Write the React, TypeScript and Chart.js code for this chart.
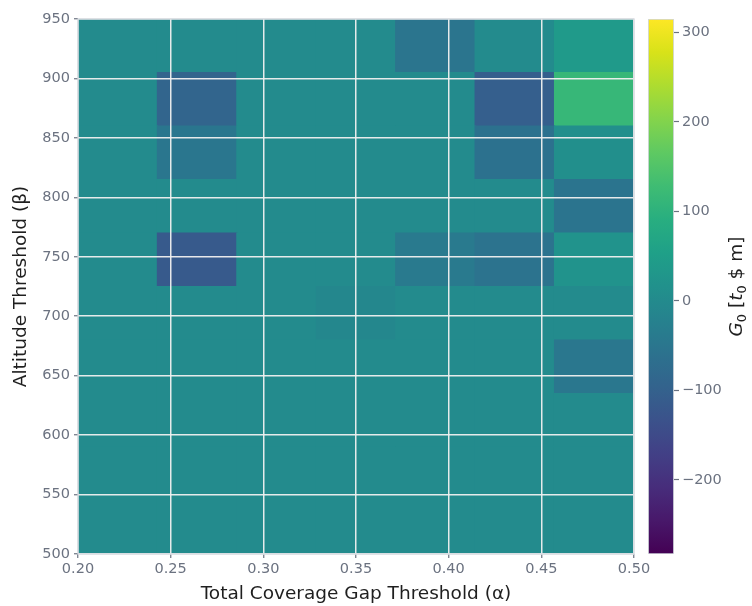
import React, { useEffect, useRef } from 'react';
import { Chart, registerables } from 'chart.js';

Chart.register(...registerables);

// ---- categories (imshow grid) ----
const ALPHA_VALUES = [0.2, 0.25, 0.3, 0.35, 0.4, 0.45, 0.5];
const BETA_VALUES = [500, 550, 600, 650, 700, 750, 800, 850, 900, 950];
const ALPHA_EXTENT = [0.2, 0.5];
const BETA_EXTENT = [500, 950];

// ---- tick labels ----
const X_TICKS = [0.2, 0.25, 0.3, 0.35, 0.4, 0.45, 0.5];
const Y_TICKS = [500, 550, 600, 650, 700, 750, 800, 850, 900, 950];
const CB_TICKS = [-200, -100, 0, 100, 200, 300];
const CB_MIN = -283;
const CB_MAX = 315;

// ---- G0 values, one row per beta (columns follow ALPHA_VALUES) ----
const G0_B500 = [0, 0, 0, 0, 0, 0, 0];
const G0_B550 = [0, 0, 0, 0, 0, 0, 0];
const G0_B600 = [0, 0, 0, 0, 0, 0, 0];
const G0_B650 = [0, 0, 0, 0, 0, 0, -47];
const G0_B700 = [0, 0, 0, -8, 0, 0, 0];
const G0_B750 = [0, -116, 0, 0, -40, -56, 20];
const G0_B800 = [0, 0, 0, 0, 0, 0, -54];
const G0_B850 = [0, -49, 0, 0, 0, -61, 12];
const G0_B900 = [0, -91, 0, 0, 0, -105, 115];
const G0_B950 = [0, 0, 0, 0, -52, 0, 38];
const G0_ROWS = [G0_B500, G0_B550, G0_B600, G0_B650, G0_B700, G0_B750, G0_B800, G0_B850, G0_B900, G0_B950];

// viridis colormap anchors
const VIRIDIS = [
  '#440154', '#48186a', '#472d7b', '#424086', '#3b528b', '#33638d', '#2c728e', '#26828e',
  '#21918c', '#1fa088', '#28ae80', '#3fbc73', '#5ec962', '#84d44b', '#addc30', '#d8e219', '#fde725',
];
function hexToRgb(h: string) {
  return [parseInt(h.slice(1, 3), 16), parseInt(h.slice(3, 5), 16), parseInt(h.slice(5, 7), 16)];
}
function viridis(t: number) {
  const c = Math.max(0, Math.min(1, t)) * (VIRIDIS.length - 1);
  const i = Math.min(Math.floor(c), VIRIDIS.length - 2);
  const f = c - i;
  const a = hexToRgb(VIRIDIS[i]);
  const b = hexToRgb(VIRIDIS[i + 1]);
  const m = a.map((v, k) => Math.round(v + (b[k] - v) * f));
  return `rgb(${m[0]},${m[1]},${m[2]})`;
}
const norm = (v: number) => (v - CB_MIN) / (CB_MAX - CB_MIN);

const TICK_COLOR = '#6b7280';
const TITLE_COLOR = '#1f1f1f';
const FONT = "'DejaVu Sans', sans-serif";
const TICK_FONT = { family: FONT, size: 14.5 };
const TITLE_FONT = { family: FONT, size: 18.5 };
const FRAME_COLOR = '#d3d7dd';

const framePlugin = {
  id: 'frame',
  afterDraw(chart: any) {
    const { ctx, chartArea: a } = chart;
    ctx.save();
    ctx.strokeStyle = FRAME_COLOR;
    ctx.lineWidth = 1.3;
    ctx.strokeRect(a.left, a.top, a.right - a.left, a.bottom - a.top);
    ctx.restore();
  },
};

const cbTitlePlugin = {
  id: 'cbTitle',
  afterDraw(chart: any) {
    const { ctx, chartArea: a } = chart;
    const segs = [
      { t: 'G', italic: true, sub: false },
      { t: '0', italic: false, sub: true },
      { t: ' [', italic: false, sub: false },
      { t: 't', italic: true, sub: false },
      { t: '0', italic: false, sub: true },
      { t: ' $ m]', italic: false, sub: false },
    ];
    const size = 18.5;
    const subSize = 13;
    const fontOf = (s: any) => `${s.italic ? 'italic ' : ''}${s.sub ? subSize : size}px ${FONT}`;
    ctx.save();
    let total = 0;
    const widths = segs.map((s) => {
      ctx.font = fontOf(s);
      const w = ctx.measureText(s.t).width;
      total += w;
      return w;
    });
    const cx = 95;
    const cy = (a.top + a.bottom) / 2;
    ctx.translate(cx, cy);
    ctx.rotate(-Math.PI / 2);
    ctx.fillStyle = TITLE_COLOR;
    ctx.textBaseline = 'alphabetic';
    let x = -total / 2;
    const base = size * 0.36;
    segs.forEach((s, i) => {
      ctx.font = fontOf(s);
      ctx.fillText(s.t, x, base + (s.sub ? 4 : 0));
      x += widths[i];
    });
    ctx.restore();
  },
};

export default function App() {
  const mainRef = useRef<HTMLCanvasElement>(null);
  const cbRef = useRef<HTMLCanvasElement>(null);

  useEffect(() => {
    const cellH = (BETA_EXTENT[1] - BETA_EXTENT[0]) / BETA_VALUES.length;
    const datasets = BETA_VALUES.map((b, r) => ({
      label: `beta ${b}`,
      data: G0_ROWS[r].map(() => [BETA_EXTENT[0] + r * cellH, BETA_EXTENT[0] + (r + 1) * cellH]),
      backgroundColor: G0_ROWS[r].map((v) => viridis(norm(v))),
      borderWidth: 0,
      inflateAmount: 0.6,
      barPercentage: 1,
      categoryPercentage: 1,
      grouped: false,
      xAxisID: 'x',
      yAxisID: 'y',
    }));

    const grid = {
      z: 1,
      offset: false,
      color: 'rgba(240,240,240,0.95)',
      lineWidth: 1.5,
      tickColor: TICK_COLOR,
      tickLength: 4,
      tickWidth: 1.2,
    };

    const main = new Chart(mainRef.current as HTMLCanvasElement, {
      type: 'bar',
      data: { labels: ALPHA_VALUES.map((a) => a.toFixed(2)), datasets: datasets as any },
      options: {
        animation: false,
        responsive: false,
        maintainAspectRatio: false,
        layout: { padding: { top: 19, right: 26, left: 0, bottom: 0 } },
        plugins: { legend: { display: false }, tooltip: { enabled: false } },
        scales: {
          x: { type: 'category', display: false, offset: true },
          xa: {
            type: 'linear',
            position: 'bottom',
            offset: false,
            min: ALPHA_EXTENT[0],
            max: ALPHA_EXTENT[1],
            afterBuildTicks: (s: any) => {
              s.ticks = X_TICKS.map((v) => ({ value: v }));
            },
            afterFit: (s: any) => {
              s.height = 52;
            },
            ticks: {
              callback: (v: any) => Number(v).toFixed(2),
              color: TICK_COLOR,
              font: TICK_FONT,
              padding: 3,
              maxRotation: 0,
              autoSkip: false,
            },
            grid,
            border: { display: false },
            title: {
              display: true,
              text: 'Total Coverage Gap Threshold (α)',
              color: TITLE_COLOR,
              font: TITLE_FONT,
              padding: { top: 0, bottom: 1 },
            },
          },
          y: {
            type: 'linear',
            min: BETA_EXTENT[0],
            max: BETA_EXTENT[1],
            afterBuildTicks: (s: any) => {
              s.ticks = Y_TICKS.map((v) => ({ value: v }));
            },
            afterFit: (s: any) => {
              s.width = 78;
            },
            ticks: { color: TICK_COLOR, font: TICK_FONT, padding: 4, autoSkip: false },
            grid,
            border: { display: false },
            title: {
              display: true,
              text: 'Altitude Threshold (β)',
              color: TITLE_COLOR,
              font: TITLE_FONT,
              padding: { top: 10, bottom: 0 },
            },
          },
        },
      } as any,
      plugins: [framePlugin],
    });

    const cb = new Chart(cbRef.current as HTMLCanvasElement, {
      type: 'bar',
      data: {
        labels: ['G0'],
        datasets: [
          {
            label: 'colorbar',
            data: [[CB_MIN, CB_MAX]] as any,
            backgroundColor: (c: any) => {
              const ch = c.chart;
              const ys = ch.scales.y;
              if (!ch.chartArea || !ys) return VIRIDIS[8];
              const g = ch.ctx.createLinearGradient(0, ys.getPixelForValue(CB_MIN), 0, ys.getPixelForValue(CB_MAX));
              VIRIDIS.forEach((col, i) => g.addColorStop(i / (VIRIDIS.length - 1), col));
              return g;
            },
            borderColor: FRAME_COLOR,
            borderWidth: 1.2,
            borderSkipped: false,
            barPercentage: 1,
            categoryPercentage: 1,
          },
        ],
      },
      options: {
        animation: false,
        responsive: false,
        maintainAspectRatio: false,
        layout: { padding: { top: 19, right: 0, left: 8, bottom: 52 } },
        plugins: { legend: { display: false }, tooltip: { enabled: false } },
        scales: {
          x: { type: 'category', display: false, offset: true },
          y: {
            type: 'linear',
            position: 'right',
            min: CB_MIN,
            max: CB_MAX,
            afterBuildTicks: (s: any) => {
              s.ticks = CB_TICKS.map((v) => ({ value: v }));
            },
            afterFit: (s: any) => {
              s.width = 78;
            },
            ticks: {
              color: TICK_COLOR,
              font: TICK_FONT,
              padding: 3,
              autoSkip: false,
              callback: (v: any) => (Number(v) < 0 ? '\u2212' + Math.abs(Number(v)) : String(v)),
            },
            grid: { drawOnChartArea: false, tickColor: TICK_COLOR, tickLength: 5, tickWidth: 1.2 },
            border: { display: false },
          },
        },
      } as any,
      plugins: [cbTitlePlugin],
    });

    return () => {
      main.destroy();
      cb.destroy();
    };
  }, []);

  return (
    <div style={{ position: 'absolute', left: 0, top: 0, width: 752, height: 606, background: '#ffffff' }}>
      <canvas
        ref={mainRef}
        width={660}
        height={606}
        style={{ position: 'absolute', left: 0, top: 0, width: 660, height: 606 }}
      />
      <canvas
        ref={cbRef}
        width={112}
        height={606}
        style={{ position: 'absolute', left: 640, top: 0, width: 112, height: 606 }}
      />
    </div>
  );
}
